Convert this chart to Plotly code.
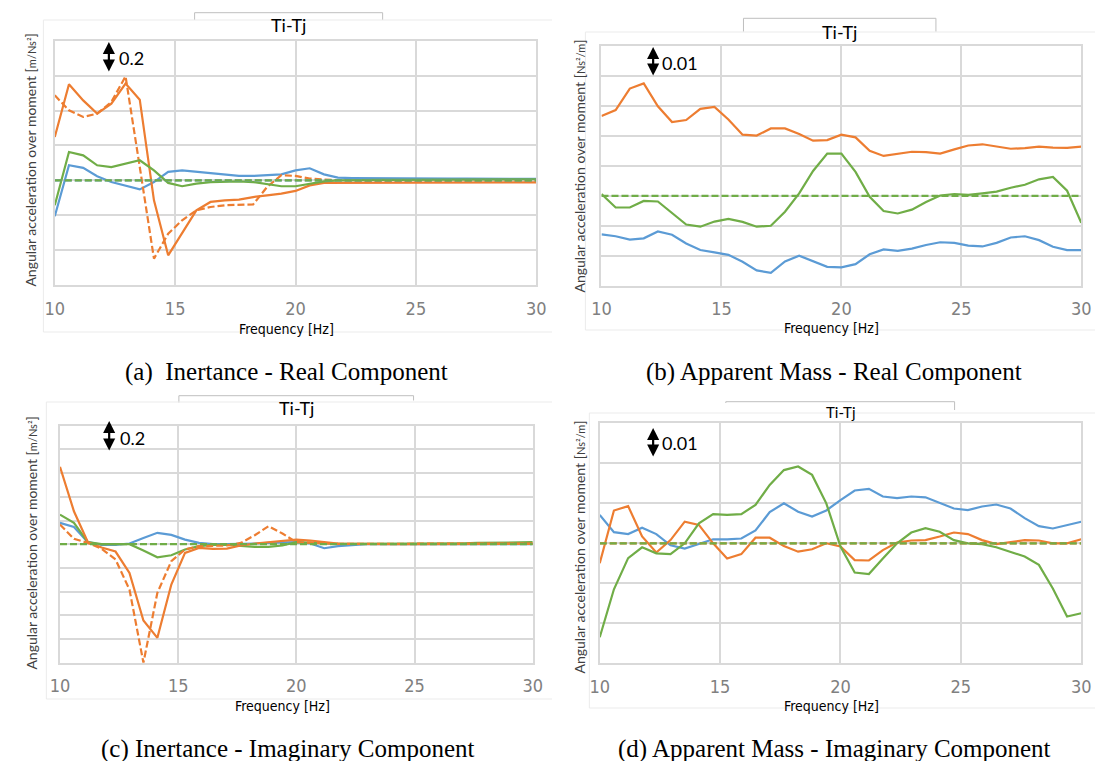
import plotly.graph_objects as go

W, H = 1105, 761

# ---------------- data ----------------
freq = [10.00, 10.59, 11.18, 11.76, 12.35, 12.94, 13.53, 14.12, 14.71, 15.29,
        15.88, 16.47, 17.06, 17.65, 18.24, 18.82, 19.41, 20.00, 20.59, 21.18,
        21.76, 22.35, 22.94, 23.53, 24.12, 24.71, 25.29, 25.88, 26.47, 27.06,
        27.65, 28.24, 28.82, 29.41, 30.00]
zero = [0.0] * len(freq)

# (a) Inertance - real
a_blue = [-0.206, 0.086, 0.071, 0.023, -0.010, -0.031, -0.052, -0.010, 0.048, 0.057,
          0.050, 0.042, 0.034, 0.025, 0.025, 0.029, 0.034, 0.057, 0.069, 0.034,
          0.015, 0.013, 0.012, 0.011, 0.011, 0.011, 0.011, 0.011, 0.010, 0.010,
          0.009, 0.011, 0.011, 0.010, 0.008]
a_green = [-0.143, 0.162, 0.143, 0.086, 0.076, 0.096, 0.115, 0.057, -0.015, -0.034,
           -0.019, -0.011, -0.008, -0.006, -0.010, -0.023, -0.034, -0.034, -0.019, -0.006,
           0.000, 0.002, 0.002, 0.002, 0.002, 0.002, 0.002, 0.002, 0.002, 0.002,
           0.002, 0.003, 0.004, 0.005, 0.006]
a_orange = [0.248, 0.550, 0.458, 0.382, 0.439, 0.554, 0.462, -0.115, -0.430, -0.306,
            -0.172, -0.124, -0.115, -0.111, -0.096, -0.086, -0.076, -0.061, -0.029, -0.015,
            -0.015, -0.015, -0.015, -0.015, -0.015, -0.015, -0.015, -0.015, -0.015, -0.015,
            -0.015, -0.015, -0.013, -0.012, -0.012]
a_orange_dash = [0.487, 0.401, 0.363, 0.382, 0.449, 0.596, 0.076, -0.449, -0.306, -0.229,
                 -0.172, -0.153, -0.143, -0.141, -0.138, -0.038, 0.029, 0.025, 0.010, 0.004,
                 0.000, -0.002, -0.003, -0.004, -0.004, -0.005, -0.005, -0.005, -0.005, -0.006,
                 -0.006, -0.006, -0.006, -0.005, -0.004]

# (b) Apparent mass - real
b_blue = [-0.0129, -0.0135, -0.0146, -0.0142, -0.0119, -0.0130, -0.0159, -0.0181, -0.0189, -0.0197,
          -0.0220, -0.0249, -0.0257, -0.0219, -0.0200, -0.0219, -0.0237, -0.0239, -0.0228, -0.0195,
          -0.0179, -0.0184, -0.0176, -0.0164, -0.0155, -0.0157, -0.0166, -0.0169, -0.0157, -0.0139,
          -0.0135, -0.0148, -0.0170, -0.0181, -0.0181]
b_orange = [0.0266, 0.0286, 0.0358, 0.0375, 0.0299, 0.0246, 0.0253, 0.0290, 0.0297, 0.0255,
            0.0204, 0.0201, 0.0225, 0.0225, 0.0206, 0.0184, 0.0186, 0.0204, 0.0195, 0.0150,
            0.0133, 0.0141, 0.0147, 0.0146, 0.0141, 0.0155, 0.0168, 0.0172, 0.0164, 0.0157,
            0.0159, 0.0164, 0.0161, 0.0160, 0.0164]
b_green = [0.0006, -0.0039, -0.0039, -0.0017, -0.0019, -0.0059, -0.0096, -0.0103, -0.0086, -0.0077,
           -0.0087, -0.0103, -0.0100, -0.0053, 0.0008, 0.0083, 0.0141, 0.0141, 0.0080, -0.0003,
           -0.0051, -0.0059, -0.0046, -0.0021, 0.0001, 0.0006, 0.0003, 0.0008, 0.0014, 0.0027,
           0.0037, 0.0055, 0.0063, 0.0017, -0.0090]

# (c) Inertance - imaginary
c_blue = [0.180, 0.146, 0.017, -0.006, -0.006, 0.006, 0.053, 0.096, 0.079, 0.039,
          0.011, 0.000, 0.000, 0.000, 0.006, 0.011, 0.017, 0.017, 0.006, -0.034,
          -0.017, -0.006, 0.000, 0.000, 0.000, 0.000, 0.000, -0.003, -0.003, 0.000,
          0.000, 0.000, 0.000, 0.000, 0.000]
c_green = [0.250, 0.180, 0.017, 0.000, 0.000, 0.000, -0.053, -0.110, -0.093, -0.045,
           -0.017, -0.006, -0.006, -0.017, -0.023, -0.023, -0.011, 0.017, 0.011, 0.003,
           0.003, 0.003, 0.003, 0.003, 0.003, 0.003, 0.003, 0.006, 0.006, 0.008,
           0.011, 0.014, 0.017, 0.017, 0.017]
c_orange = [0.653, 0.278, 0.017, -0.028, -0.062, -0.242, -0.644, -0.790, -0.340, -0.073,
            -0.031, -0.039, -0.037, -0.011, 0.006, 0.017, 0.025, 0.039, 0.031, 0.017,
            0.006, 0.003, 0.000, 0.000, 0.000, 0.000, 0.000, 0.000, 0.000, 0.000,
            0.000, 0.003, 0.003, 0.003, 0.003]
c_orange_dash = [0.166, 0.045, 0.011, -0.039, -0.129, -0.383, -1.000, -0.411, -0.143, -0.045,
                 -0.017, -0.017, -0.011, 0.011, 0.076, 0.152, 0.090, 0.017, 0.011, 0.006,
                 0.003, 0.003, 0.003, 0.003, 0.003, 0.003, 0.003, 0.003, 0.003, 0.003,
                 0.003, 0.006, 0.006, 0.006, 0.006]

# (d) Apparent mass - imaginary
d_blue = [0.0071, 0.0028, 0.0023, 0.0039, 0.0023, -0.0005, -0.0013, -0.0002, 0.0010, 0.0010,
          0.0012, 0.0032, 0.0078, 0.0100, 0.0079, 0.0067, 0.0082, 0.0108, 0.0132, 0.0136,
          0.0117, 0.0113, 0.0117, 0.0115, 0.0100, 0.0087, 0.0083, 0.0092, 0.0097, 0.0087,
          0.0063, 0.0043, 0.0037, 0.0046, 0.0054]
d_orange = [-0.0050, 0.0082, 0.0093, 0.0017, -0.0023, 0.0008, 0.0054, 0.0046, 0.0000, -0.0038,
            -0.0027, 0.0014, 0.0014, -0.0007, -0.0021, -0.0015, 0.0000, -0.0008, -0.0042, -0.0043,
            -0.0017, 0.0002, 0.0007, 0.0008, 0.0017, 0.0027, 0.0023, 0.0008, -0.0002, 0.0003,
            0.0008, 0.0007, 0.0000, 0.0000, 0.0010]
d_green = [-0.0235, -0.0115, -0.0037, -0.0010, -0.0025, -0.0027, 0.0000, 0.0050, 0.0073, 0.0071,
           0.0073, 0.0096, 0.0146, 0.0183, 0.0192, 0.0171, 0.0100, -0.0008, -0.0073, -0.0077,
           -0.0038, 0.0000, 0.0027, 0.0038, 0.0029, 0.0008, 0.0000, -0.0002, -0.0010, -0.0021,
           -0.0033, -0.0054, -0.0113, -0.0183, -0.0175]

x_ticks = [10, 15, 20, 25, 30]
panel_title = "Ti-Tj"
x_title = "Frequency [Hz]"
y_title = "Angular acceleration over moment"
captions = ["(a)  Inertance - Real Component", "(b) Apparent Mass - Real Component",
            "(c) Inertance - Imaginary Component", "(d) Apparent Mass - Imaginary Component"]
scale_labels = ["0.2", "0.01", "0.2", "0.01"]

# ---------------- style ----------------
BLUE, ORANGE, GREEN = "#5B9BD5", "#ED7D31", "#70AD47"
GRID = "#d9d9d9"
SANS = "Lato, Open Sans, sans-serif"
COND = "DejaVu Sans Condensed, Liberation Sans Narrow, Arial Narrow, Roboto, sans-serif"
SERIF = "Liberation Serif, Times New Roman, serif"


def px(x, y):
    return x / W, 1 - y / H


fig = go.Figure()

# panel geometry (pixels): x0, x1, y0(top), y1(bottom), y range, dtick
panels = [
    dict(x0=45.6, x1=536.0, y0=40.7, y1=285.0, yr=[-0.6, 0.8], dt=0.2),
    dict(x0=602.4, x1=1091.0, y0=46.0, y1=285.7, yr=[-0.03, 0.05], dt=0.01),
    dict(x0=50.9, x1=532.4, y0=425.7, y1=662.7, yr=[-1.0, 1.0], dt=0.2),
    dict(x0=600.6, x1=1091.0, y0=423.3, y1=663.3, yr=[-0.03, 0.03], dt=0.01),
]

series = [
    [(a_blue, BLUE, "solid"), (a_orange_dash, ORANGE, "7px,3px"), (a_orange, ORANGE, "solid"),
     (a_green, GREEN, "solid"), (zero, BLUE, "7px,3px"), (zero, GREEN, "7px,3px")],
    [(b_blue, BLUE, "solid"), (b_orange, ORANGE, "solid"), (b_green, GREEN, "solid"),
     (zero, GREEN, "7px,3px")],
    [(c_blue, BLUE, "solid"), (c_green, GREEN, "solid"), (c_orange_dash, ORANGE, "7px,3px"),
     (c_orange, ORANGE, "solid"), (zero, GREEN, "7px,3px")],
    [(d_blue, BLUE, "solid"), (d_orange, ORANGE, "solid"), (d_green, GREEN, "solid"),
     (zero, ORANGE, "7px,3px"), (zero, GREEN, "7px,3px")],
]

layout = {}
for i, p in enumerate(panels):
    k = "" if i == 0 else str(i + 1)
    layout["xaxis" + k] = dict(
        domain=[p["x0"] / W, p["x1"] / W], anchor="y" + k, range=[10, 30],
        tickvals=x_ticks, ticktext=[str(t) for t in x_ticks],
        showgrid=True, gridcolor=GRID, gridwidth=2, zeroline=False,
        showline=True, mirror=True, linecolor=GRID, linewidth=2,
        ticks="outside", ticklen=6, tickcolor="rgba(0,0,0,0)",
        tickfont=dict(family=COND, size=18, color="#808080"))
    layout["yaxis" + k] = dict(
        domain=[1 - p["y1"] / H, 1 - p["y0"] / H], anchor="x" + k, range=p["yr"],
        dtick=p["dt"], tick0=0, showgrid=True, gridcolor=GRID, gridwidth=2,
        zeroline=False, showline=True, mirror=True, linecolor=GRID, linewidth=2,
        showticklabels=False, ticks="")
    for vals, col, dash in series[i]:
        fig.add_trace(go.Scatter(x=freq, y=vals, mode="lines", xaxis="x" + k, yaxis="y" + k,
                                 line=dict(color=col, width=2.2, dash=dash),
                                 hoverinfo="skip", showlegend=False))

ann = []
shapes = []

# titles + brackets
title_pos = [(284, 25, 18), (845, 32, 18), (292, 408, 18), (846, 412, 15)]
brackets = [(188, 379.5, 12.7, 20, 20), (747, 943, 18.3, 31.7, 31.7),
            (172, 411, 395.7, 402.5, 400.5), (729, 962, 401.7, 403, 410)]
for (tx, ty, fs) in title_pos:
    x, y = px(tx, ty)
    ann.append(dict(x=x, y=y, xref="paper", yref="paper", text=panel_title, showarrow=False,
                    xanchor="center", yanchor="middle", font=dict(family=SANS, size=fs, color="#000")))
for (bx0, bx1, by, byl, byr) in brackets:
    a0 = px(bx0, byl); a1 = px(bx0, by); a2 = px(bx1, by); a3 = px(bx1, byr)
    shapes.append(dict(type="path", xref="paper", yref="paper",
                       path=f"M {a0[0]},{a0[1]} L {a1[0]},{a1[1]} L {a2[0]},{a2[1]} L {a3[0]},{a3[1]}",
                       line=dict(color="#bfbfbf", width=1)))

# faint chart-area borders
borders = [(34, 20, 552, 332), (586, 32, 1105, 330), (37, 402, 552, 699), (590, 413, 1105, 708)]
for (lx, ty, rx, by) in borders:
    p0 = px(lx, ty); p1 = px(lx, by); p2 = px(rx, by); p3 = px(rx, ty)
    shapes.append(dict(type="path", xref="paper", yref="paper",
                       path=f"M {p3[0]},{p3[1]} L {p0[0]},{p0[1]} L {p1[0]},{p1[1]} L {p2[0]},{p2[1]}",
                       line=dict(color="#ebebeb", width=1)))

# y-axis titles
ytitle_pos = [(21, 160, "m/Ns²"), (579, 166, "Ns²/m"), (21, 543, "m/Ns²"), (579, 547, "Ns²/m")]
for (yx, yy, unit) in ytitle_pos:
    x, y = px(yx, yy)
    ann.append(dict(x=x, y=y, xref="paper", yref="paper", textangle=-90, showarrow=False,
                    text=f"{y_title} [<span style='font-size:11px'>{unit}</span>]",
                    xanchor="center", yanchor="middle",
                    font=dict(family=SANS, size=14, color="#404040")))

# x-axis titles
xt_pos = [(282, 329), (837, 328), (278, 706), (837, 706)]
for (xx, xy) in xt_pos:
    x, y = px(xx, xy)
    ann.append(dict(x=x, y=y, xref="paper", yref="paper", text=x_title, showarrow=False,
                    xanchor="center", yanchor="middle", font=dict(family=COND, size=14, color="#000")))

# scale arrows (double-headed)
arrows = [(100.7, 42, 73, 123.5, 58), (655, 47, 77, 682, 63), (101, 421, 452, 124.5, 438),
          (655, 428, 458, 682, 443)]
for i, (axp, yt, yb, lx, ly) in enumerate(arrows):
    x, y = px(axp, yt)
    ann.append(dict(x=x, y=y, xref="paper", yref="paper", text="", showarrow=True,
                    ax=0, ay=yb - yt, arrowhead=2, arrowside="end+start", arrowsize=1.1,
                    arrowwidth=2.2, arrowcolor="#000", standoff=0, startstandoff=0))
    x, y = px(lx, ly)
    ann.append(dict(x=x, y=y, xref="paper", yref="paper", text=scale_labels[i], showarrow=False,
                    xanchor="center", yanchor="middle", font=dict(family=SANS, size=18, color="#000")))

# captions
cap_pos = [(282, 372), (839, 372), (283, 749), (840, 749)]
for (cx, cy), txt in zip(cap_pos, captions):
    x, y = px(cx, cy)
    ann.append(dict(x=x, y=y, xref="paper", yref="paper", text=txt, showarrow=False,
                    xanchor="center", yanchor="middle", font=dict(family=SERIF, size=25, color="#000")))

fig.update_layout(width=W, height=H, margin=dict(l=0, r=0, t=0, b=0),
                  paper_bgcolor="white", plot_bgcolor="white", showlegend=False,
                  annotations=ann, shapes=shapes, **layout)

fig.write_html("out.html")
